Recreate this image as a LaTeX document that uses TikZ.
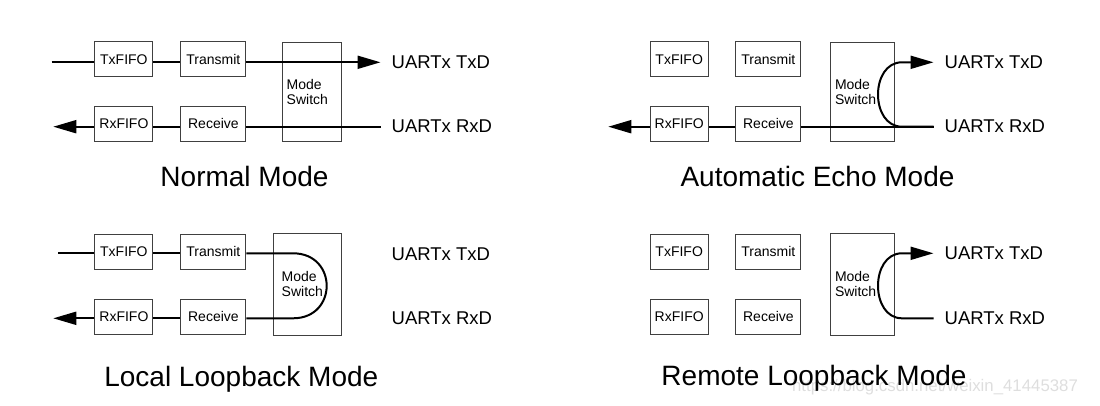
\documentclass[tikz,border=0pt]{standalone}
\usepackage{fontspec}
\setmainfont{Liberation Sans}
\usetikzlibrary{arrows.meta}
\begin{document}
\begin{tikzpicture}[x=1pt,y=-1pt,
 box/.style={draw=black!75, line width=0.9pt, inner sep=0pt, minimum height=35.5pt, font=\fontsize{14}{15}\selectfont},
 fifo/.style={box, minimum width=58pt},
 unit/.style={box, minimum width=65pt},
 modesw/.style={draw=black!75, line width=0.9pt, inner ysep=0pt, align=left, font=\fontsize{14}{15}\selectfont},
 sig/.style={line width=2pt, black},
 arr/.style={-{Triangle[length=23pt,width=13pt]}},
 pin/.style={anchor=west, inner xsep=11pt, inner ysep=0pt, font=\fontsize{18.5}{20}\selectfont},
 title/.style={anchor=base, inner sep=0pt, font=\fontsize{28}{30}\selectfont}]
\useasboundingbox (0,0) rectangle (1100,406);

% ---------- Normal Mode ----------
\node[fifo] (tf1) at (123.9,59.2) {TxFIFO};
\node[unit] (tr1) at (213.4,59.2) {Transmit};
\node[fifo] (rf1) at (123.9,123.9) {RxFIFO};
\node[unit] (rc1) at (213.4,123.9) {Receive};
\node[modesw, inner xsep=4pt, text width=51pt, minimum height=99.4pt] (ms1) at (312.2,92) {Mode\\Switch};
\node[pin] (txd1) at (380.5,62.3) {UARTx TxD};
\node[pin] (rxd1) at (380.5,126.7) {UARTx RxD};
\coordinate (in1) at (51.7,62.3);
\coordinate (out1) at (53.3,126.7);
\draw[sig] (in1) -- (in1 -| tf1.west);
\draw[sig] (tf1.east |- in1) -- (tr1.west |- in1);
\draw[sig,arr] (tr1.east |- in1) -- (txd1.west);
\draw[sig] (rxd1.west) -- (rc1.east |- rxd1.west);
\draw[sig] (rc1.west |- out1) -- (rf1.east |- out1);
\draw[sig,arr] (rf1.west |- out1) -- (out1);
\node[title] (t1) at (244.5,186.7) {Normal Mode};

% ---------- Automatic Echo Mode ----------
\node[fifo] (tf2) at (679.2,59.2) {TxFIFO};
\node[unit] (tr2) at (768.4,59.2) {Transmit};
\node[fifo] (rf2) at (679.2,123.9) {RxFIFO};
\node[unit] (rc2) at (768.4,123.9) {Receive};
\node[modesw, inner xsep=5pt, text width=54pt, minimum height=99.4pt] (ms2) at (862,92) {Mode\\Switch};
\node[pin] (txd2) at (933.5,62.3) {UARTx TxD};
\node[pin] (rxd2) at (933.5,126.7) {UARTx RxD};
\coordinate (out2) at (608.3,126.7);
\draw[sig] (rxd2.west) -- (rc2.east |- rxd2.west);
\draw[sig] (rc2.west |- out2) -- (rf2.east |- out2);
\draw[sig,arr] (rf2.west |- out2) -- (out2);
\draw[sig,arr] (rxd2.west) -- (902,126.7) .. controls (870,126.7) and (870,62.3) .. (902,62.3) -- (txd2.west);
\node[title] (t2) at (817.5,186.7) {Automatic Echo Mode};

% ---------- Local Loopback Mode ----------
\node[fifo] (tf3) at (123.9,251.7) {TxFIFO};
\node[unit] (tr3) at (213.4,251.7) {Transmit};
\node[fifo] (rf3) at (123.9,316.7) {RxFIFO};
\node[unit] (rc3) at (213.4,316.7) {Receive};
\node[modesw, inner xsep=8.4pt, text width=51.6pt, minimum height=101.7pt] (ms3) at (307.5,284.2) {Mode\\Switch};
\node[pin] (txd3) at (380.5,254.5) {UARTx TxD};
\node[pin] (rxd3) at (380.5,318.3) {UARTx RxD};
\coordinate (in3) at (58.3,253.3);
\coordinate (out3) at (53.3,318.3);
\draw[sig] (in3) -- (in3 -| tf3.west);
\draw[sig] (tf3.east |- in3) -- (tr3.west |- in3);
\draw[sig] (tr3.east |- in3) -- (293,253.3) .. controls (337.9,253.3) and (337.9,318.3) .. (293,318.3) -- (rc3.east |- out3);
\draw[sig] (rc3.west |- out3) -- (rf3.east |- out3);
\draw[sig,arr] (rf3.west |- out3) -- (out3);

% ---------- Remote Loopback Mode ----------
\node[fifo] (tf4) at (679.2,251.7) {TxFIFO};
\node[unit] (tr4) at (768.4,251.7) {Transmit};
\node[fifo] (rf4) at (679.2,316.7) {RxFIFO};
\node[unit] (rc4) at (768.4,316.7) {Receive};
\node[modesw, inner xsep=5pt, text width=54pt, minimum height=101.7pt] (ms4) at (862,284.2) {Mode\\Switch};
\node[pin] (txd4) at (933.5,253.3) {UARTx TxD};
\node[pin] (rxd4) at (933.5,318.3) {UARTx RxD};
\draw[sig,arr] (rxd4.west) -- (902,318.3) .. controls (870,318.3) and (870,253.3) .. (902,253.3) -- (txd4.west);

% watermark and bottom titles
\node[anchor=base, inner sep=0pt, text=black!13, font=\fontsize{16.8}{18}\selectfont] (wm) at (935,391.7) {https://blog.csdn.net/weixin\_41445387};
\node[title] (t3) at (241.3,386.7) {Local Loopback Mode};
\node[title] (t4) at (814,385.7) {Remote Loopback Mode};
\end{tikzpicture}
\end{document}
